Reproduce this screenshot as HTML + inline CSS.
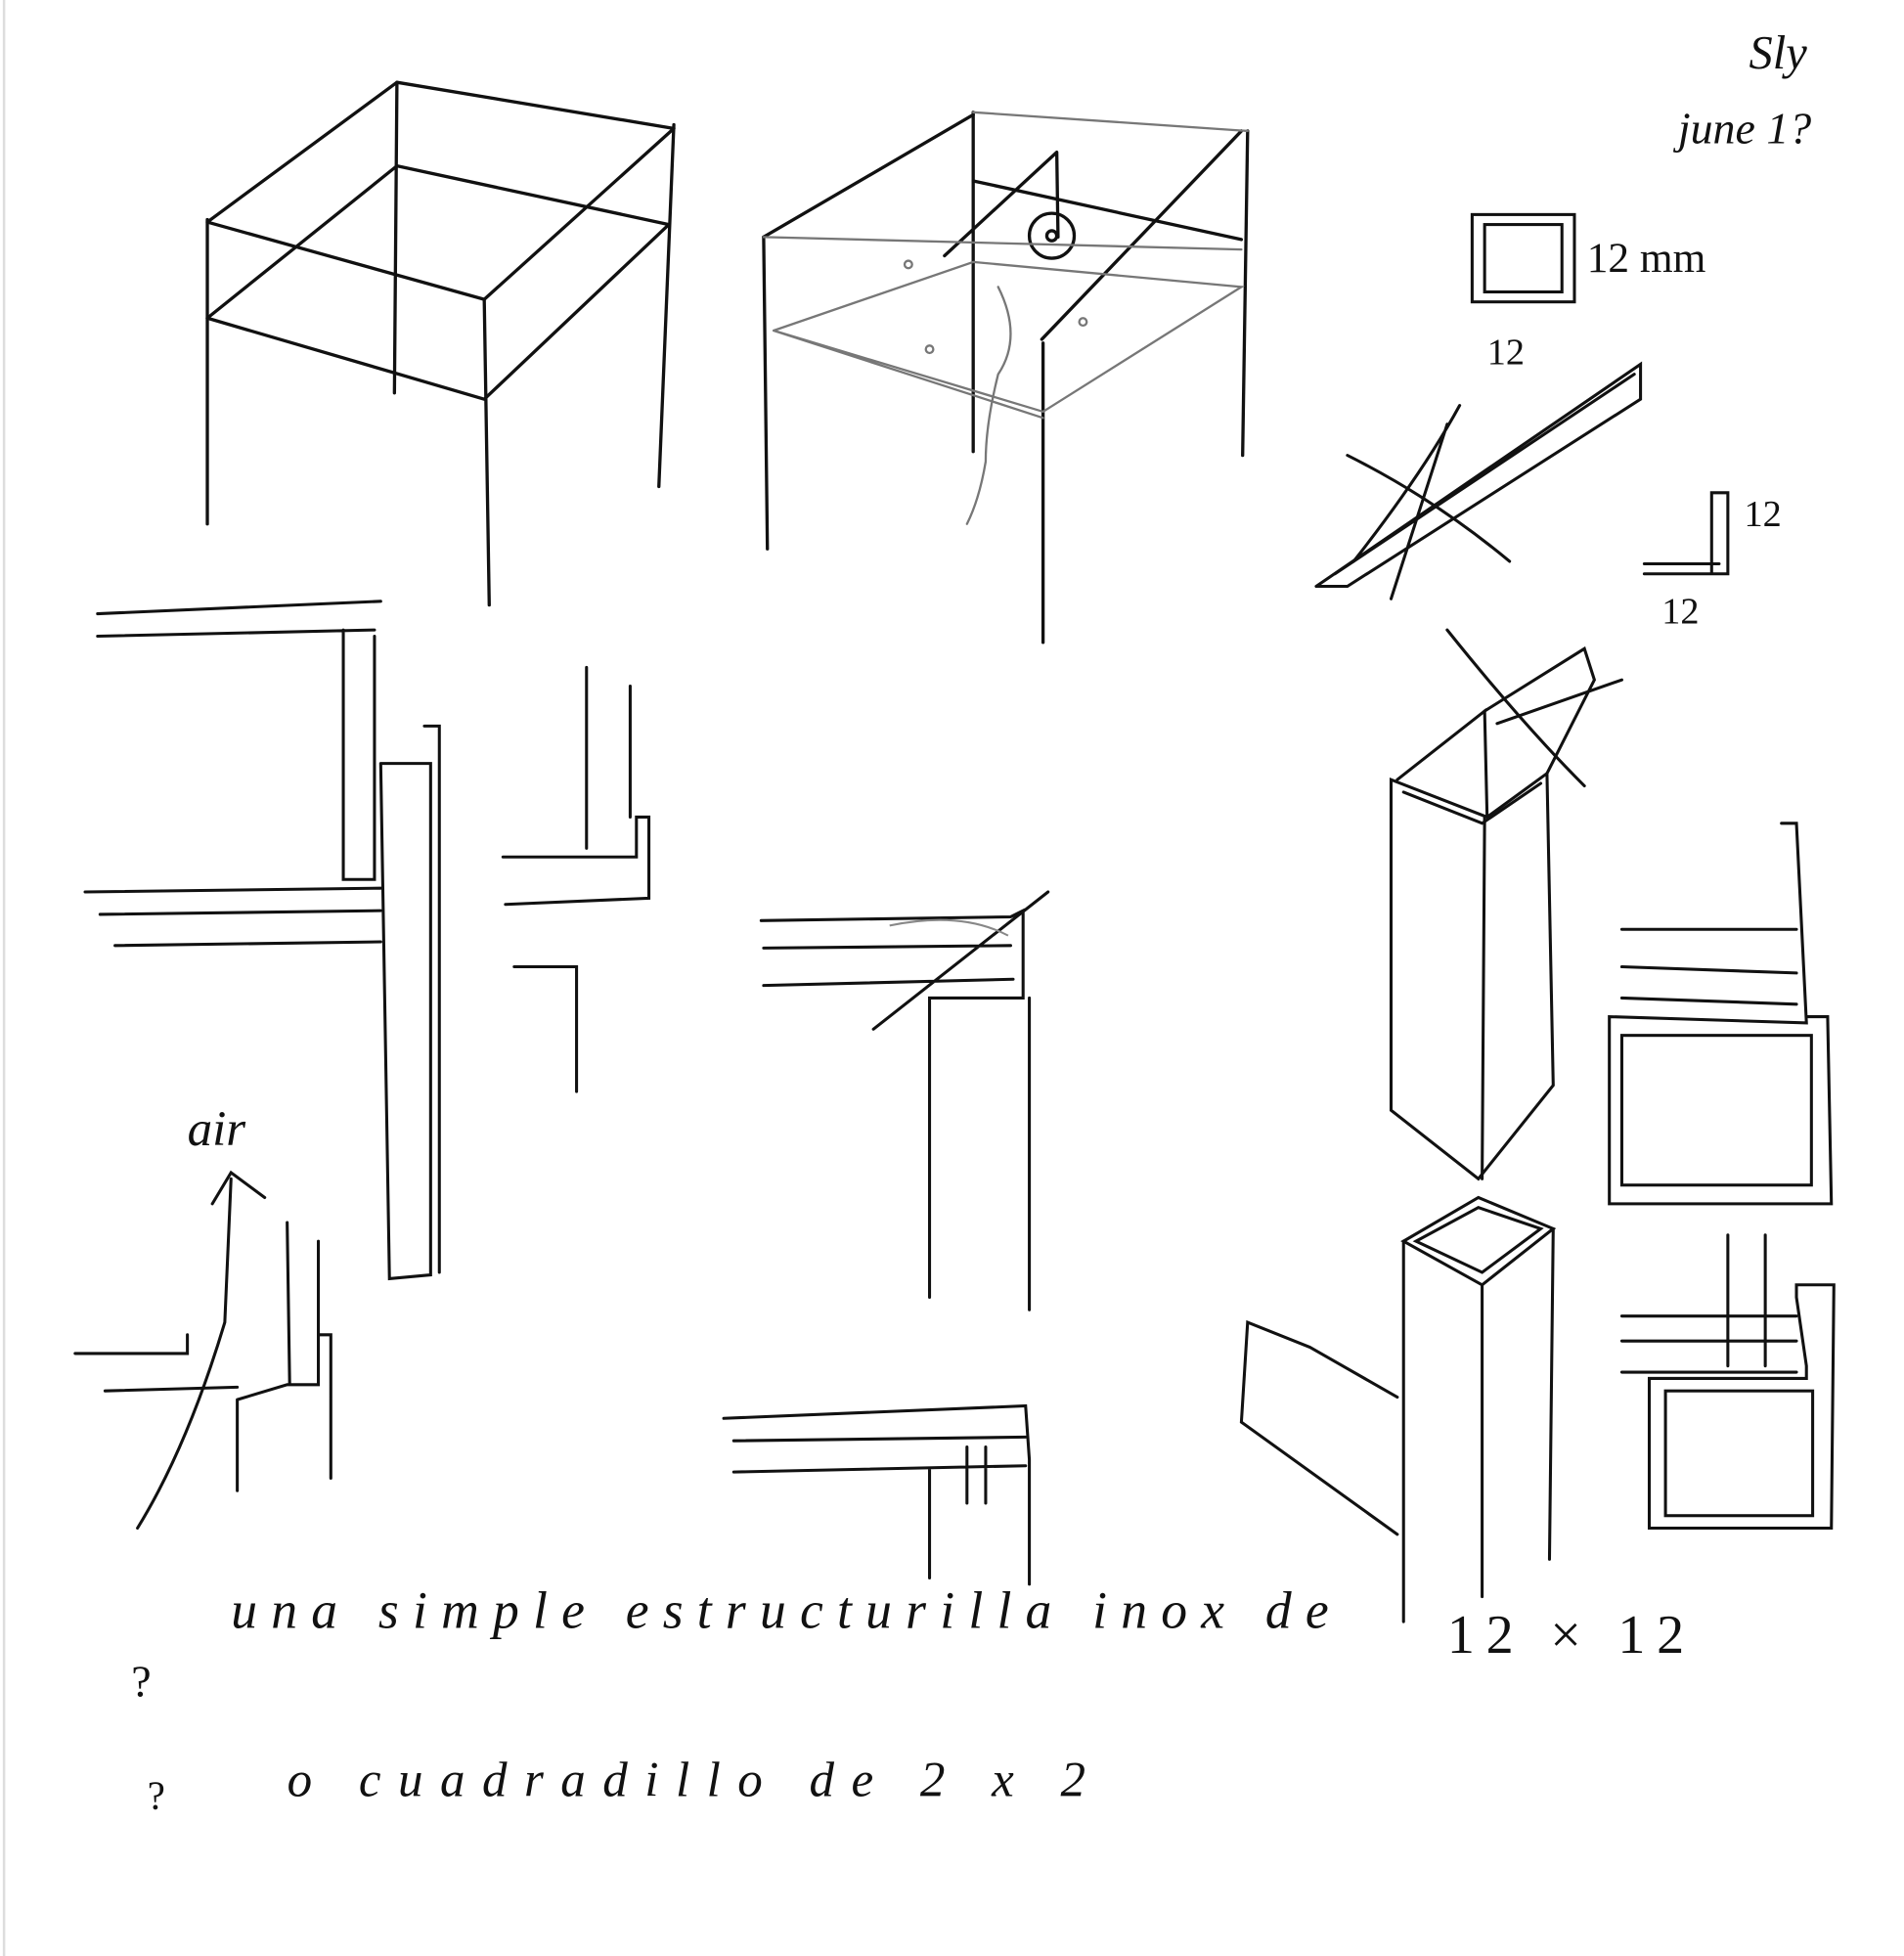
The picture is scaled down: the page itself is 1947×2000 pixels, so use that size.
<!DOCTYPE html>
<html><head><meta charset="utf-8"><style>
html,body{margin:0;padding:0;background:#fff;}
svg{display:block;}
text{font-family:"Liberation Serif",serif;font-style:italic;fill:#111;}
</style></head><body>
<svg width="1947" height="2000" viewBox="0 0 1526 1568" xmlns="http://www.w3.org/2000/svg">
<rect width="1526" height="1568" fill="#fff"/>
<line x1="3" y1="0" x2="3" y2="1568" stroke="#ddd" stroke-width="2"/>
<g fill="none" stroke="#111" stroke-width="2.6" stroke-linecap="round" stroke-linejoin="round">
<path d="M318 66 L540 103 L388 240 L166 178 Z"/>
<path d="M318 133 L536 180 M166 255 L388 320 M166 255 L318 133 M388 320 L536 180"/>
<path d="M166 176 L166 420 M318 66 L316 315 M388 240 L392 485 M540 100 L528 390"/>
<path d="M612 190 L615 440 M780 90 L780 362 M836 275 L836 515 M1000 105 L996 365"/>
<path d="M780 145 L995 192 M757 205 L847 122 L848 190"/>
<circle cx="843" cy="189" r="18"/><circle cx="843" cy="189" r="4"/>
<path d="M612 190 L780 92 M835 272 L995 105"/>
</g>
<g fill="none" stroke="#777" stroke-width="1.8" stroke-linecap="round">
<path d="M780 90 L1000 105 M612 190 L995 200 M620 265 L780 210 L995 230 L836 330 L620 265 M620 265 L836 335"/>
<path d="M800 230 Q820 270 800 300 Q790 340 790 370 Q785 400 775 420"/>
<circle cx="728" cy="212" r="3"/><circle cx="745" cy="280" r="3"/><circle cx="868" cy="258" r="3"/>
</g>
<g fill="none" stroke="#111" stroke-width="2.4" stroke-linecap="round">
<rect x="1180" y="172" width="82" height="70"/><rect x="1190" y="180" width="62" height="54"/>
<path d="M1055 470 L1315 292 L1315 320 L1080 470 L1055 470 M1070 460 L1310 300"/>
<path d="M1080 365 Q1150 400 1210 450 M1085 450 Q1140 380 1170 325 M1160 340 L1115 480"/>
<path d="M1318 460 L1372 460 L1372 395 L1385 395 L1385 460 L1318 460 M1318 452 L1378 452"/>
<path d="M1120 625 L1190 570 L1192 655 L1115 625 L1115 890 L1185 945 L1245 870 L1240 620 L1192 655 M1190 655 L1188 945"/>
<path d="M1125 635 L1188 660 L1235 628 M1190 570 L1270 520 L1278 545 L1240 620"/>
<path d="M1160 505 Q1220 580 1270 630 M1200 580 L1300 545"/>
<path d="M1125 995 L1185 960 L1245 985 L1188 1030 Z M1135 995 L1185 968 L1235 985 L1188 1020 Z"/>
<path d="M1125 995 L1125 1300 M1188 1030 L1188 1280 M1245 985 L1242 1250"/>
<path d="M1050 1080 L1120 1120 M1050 1080 L1000 1060 L995 1140 L1120 1230"/>
<path d="M1428 660 L1440 660 L1448 820 L1290 815 L1290 965 L1468 965 L1465 815 L1448 815"/>
<rect x="1300" y="830" width="152" height="120"/>
<path d="M1300 745 L1440 745 M1300 775 L1440 780 M1300 800 L1440 805"/>
<path d="M1440 1030 L1470 1030 L1468 1225 L1322 1225 L1322 1105 L1448 1105 L1448 1095 L1440 1040 Z"/>
<rect x="1335" y="1115" width="118" height="100"/>
<path d="M1300 1055 L1440 1055 M1300 1075 L1440 1075 M1300 1100 L1440 1100 M1385 990 L1385 1095 M1415 990 L1415 1095"/>
<path d="M78 492 L305 482 M78 510 L300 505 M275 505 L275 705 L300 705 L300 510"/>
<path d="M68 715 L305 712 M80 733 L305 730 M92 758 L305 755"/>
<path d="M305 612 L345 612 L345 1022 L312 1025 L305 612 M340 582 L352 582 L352 1020"/>
<path d="M403 687 L510 687 L510 655 L520 655 L520 720 L405 725 M412 775 L462 775 L462 875 M470 535 L470 680 M505 550 L505 655"/>
<path d="M610 738 L810 735 L820 730 L820 800 L745 800 L745 1040 M612 760 L810 758 M612 790 L812 785 M700 825 L840 715 M825 800 L825 1050"/>
<path d="M580 1137 L822 1127 L825 1170 M588 1155 L822 1152 M588 1180 L822 1175 M745 1178 L745 1265 M825 1170 L825 1270 M775 1160 L775 1205 M790 1160 L790 1205"/>
<path d="M110 1225 Q150 1160 180 1060 L185 945 M170 965 L185 940 L212 960"/>
<path d="M60 1085 L150 1085 L150 1070 M190 1122 L190 1195 M190 1122 L230 1110 L255 1110 L255 1070 L265 1070 L265 1185 M230 980 L232 1110 M255 995 L255 1070 M84 1115 L190 1112"/>
</g>
<g fill="none" stroke="#888" stroke-width="1.6"><path d="M713 742 Q770 730 808 750"/></g>
<text x="1402" y="55" font-size="38">Sly</text>
<text x="1345" y="115" font-size="36">june 1?</text>
<text x="1272" y="218" font-size="34" style="font-style:normal">12 mm</text>
<text x="1192" y="292" font-size="30" style="font-style:normal">12</text>
<text x="1398" y="422" font-size="30" style="font-style:normal">12</text>
<text x="1332" y="500" font-size="30" style="font-style:normal">12</text>
<text x="150" y="918" font-size="40">air</text>
<text x="185" y="1305" font-size="42" textLength="880" lengthAdjust="spacing">una simple estructurilla  inox de</text>
<text x="1160" y="1325" font-size="44" style="font-style:normal" textLength="190" lengthAdjust="spacing">12 × 12</text>
<text x="105" y="1360" font-size="36" style="font-style:normal">?</text>
<text x="118" y="1450" font-size="32" style="font-style:normal">?</text>
<text x="230" y="1440" font-size="40" textLength="640" lengthAdjust="spacing">o cuadradillo de  2 x 2</text>
</svg>
</body></html>
